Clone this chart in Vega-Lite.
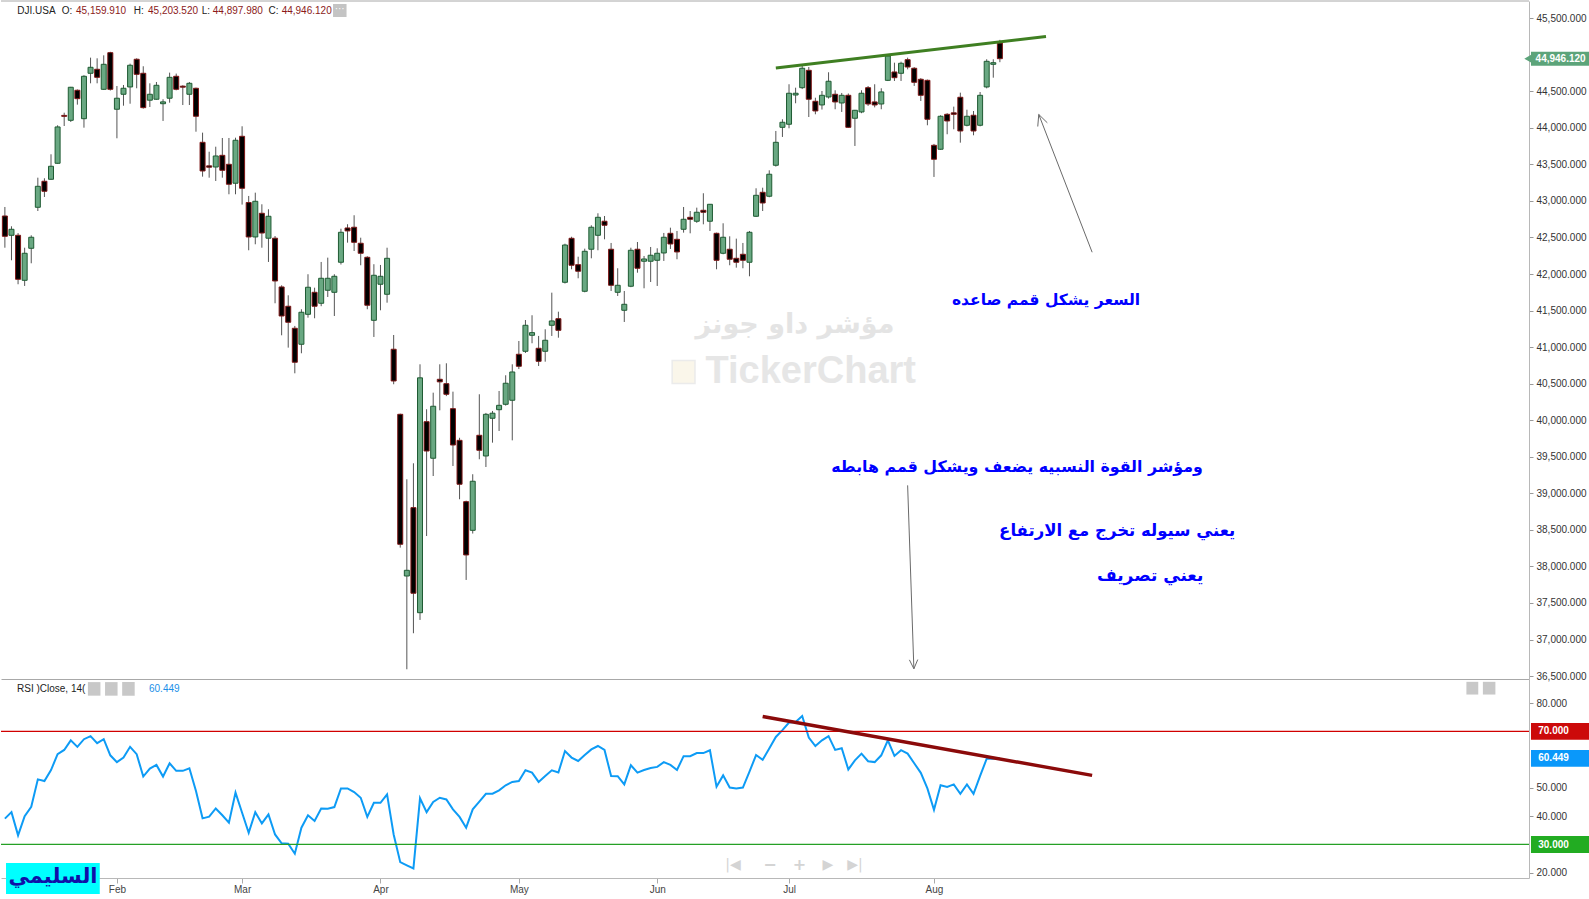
{
"$schema": "https://vega.github.io/schema/vega-lite/v6.json",
"padding": 0,
"autosize": {"type": "pad"},
"background": "white",
"spacing": 0,
"bounds": "flush",
"config": {"view": {"stroke": null}, "axis": {"grid": false, "labelOverlap": false, "labelFont": "Liberation Sans", "titleFont": "Liberation Sans"}, "text": {"font": "Liberation Sans"}},
"datasets": {"bars": [
{"i":0,"d":"2025-01-07","o":42794,"h":42917,"l":42360,"c":42516,"r":39.1},
{"i":1,"d":"2025-01-08","o":42530,"h":42653,"l":42188,"c":42612,"r":41.4},
{"i":2,"d":"2025-01-10","o":42530,"h":42560,"l":41860,"c":41928,"r":33.2},
{"i":3,"d":"2025-01-13","o":41914,"h":42360,"l":41837,"c":42284,"r":40.0},
{"i":4,"d":"2025-01-14","o":42352,"h":42530,"l":42147,"c":42503,"r":43.3},
{"i":5,"d":"2025-01-15","o":42913,"h":43318,"l":42862,"c":43200,"r":53.0},
{"i":6,"d":"2025-01-16","o":43269,"h":43310,"l":43054,"c":43132,"r":52.4},
{"i":7,"d":"2025-01-17","o":43296,"h":43638,"l":43290,"c":43474,"r":56.3},
{"i":8,"d":"2025-01-21","o":43515,"h":44035,"l":43510,"c":44012,"r":61.9},
{"i":9,"d":"2025-01-22","o":44170,"h":44207,"l":44025,"c":44157,"r":63.4},
{"i":10,"d":"2025-01-23","o":44103,"h":44560,"l":44080,"c":44555,"r":66.8},
{"i":11,"d":"2025-01-24","o":44514,"h":44525,"l":44317,"c":44399,"r":64.5},
{"i":12,"d":"2025-01-27","o":44125,"h":44720,"l":44002,"c":44705,"r":67.2},
{"i":13,"d":"2025-01-28","o":44746,"h":44960,"l":44609,"c":44828,"r":68.3},
{"i":14,"d":"2025-01-29","o":44801,"h":44951,"l":44609,"c":44691,"r":65.8},
{"i":15,"d":"2025-01-30","o":44527,"h":44992,"l":44520,"c":44869,"r":67.2},
{"i":16,"d":"2025-01-31","o":45028,"h":45040,"l":44510,"c":44527,"r":61.5},
{"i":17,"d":"2025-02-03","o":44254,"h":44572,"l":43857,"c":44405,"r":59.1},
{"i":18,"d":"2025-02-04","o":44459,"h":44586,"l":44303,"c":44541,"r":60.7},
{"i":19,"d":"2025-02-05","o":44559,"h":44878,"l":44330,"c":44856,"r":64.5},
{"i":20,"d":"2025-02-06","o":44938,"h":44951,"l":44541,"c":44732,"r":61.9},
{"i":21,"d":"2025-02-07","o":44746,"h":44842,"l":44262,"c":44276,"r":54.0},
{"i":22,"d":"2025-02-10","o":44378,"h":44609,"l":44285,"c":44459,"r":56.8},
{"i":23,"d":"2025-02-11","o":44391,"h":44627,"l":44385,"c":44582,"r":58.1},
{"i":24,"d":"2025-02-12","o":44330,"h":44391,"l":44094,"c":44355,"r":54.0},
{"i":25,"d":"2025-02-13","o":44405,"h":44755,"l":44344,"c":44691,"r":58.7},
{"i":26,"d":"2025-02-14","o":44705,"h":44742,"l":44513,"c":44527,"r":56.0},
{"i":27,"d":"2025-02-18","o":44570,"h":44582,"l":44312,"c":44556,"r":56.0},
{"i":28,"d":"2025-02-19","o":44459,"h":44627,"l":44312,"c":44609,"r":56.9},
{"i":29,"d":"2025-02-20","o":44541,"h":44550,"l":43947,"c":44158,"r":48.9},
{"i":30,"d":"2025-02-21","o":43802,"h":43934,"l":43332,"c":43410,"r":39.2},
{"i":31,"d":"2025-02-24","o":43480,"h":43673,"l":43318,"c":43461,"r":39.8},
{"i":32,"d":"2025-02-25","o":43464,"h":43742,"l":43273,"c":43615,"r":42.7},
{"i":33,"d":"2025-02-26","o":43624,"h":43861,"l":43318,"c":43419,"r":40.3},
{"i":34,"d":"2025-02-27","o":43501,"h":43861,"l":43091,"c":43228,"r":37.7},
{"i":35,"d":"2025-02-28","o":43242,"h":43865,"l":43091,"c":43830,"r":48.3},
{"i":36,"d":"2025-03-03","o":43884,"h":44021,"l":42950,"c":43173,"r":41.2},
{"i":37,"d":"2025-03-04","o":42978,"h":43068,"l":42325,"c":42507,"r":34.1},
{"i":38,"d":"2025-03-05","o":42507,"h":43113,"l":42407,"c":42995,"r":41.4},
{"i":39,"d":"2025-03-06","o":42831,"h":42954,"l":42360,"c":42561,"r":37.4},
{"i":40,"d":"2025-03-07","o":42490,"h":42886,"l":42165,"c":42790,"r":40.6},
{"i":41,"d":"2025-03-10","o":42490,"h":42520,"l":41600,"c":41905,"r":33.5},
{"i":42,"d":"2025-03-11","o":41823,"h":41846,"l":41162,"c":41426,"r":30.4},
{"i":43,"d":"2025-03-12","o":41559,"h":41709,"l":40993,"c":41340,"r":30.2},
{"i":44,"d":"2025-03-13","o":41258,"h":41290,"l":40642,"c":40793,"r":26.7},
{"i":45,"d":"2025-03-14","o":41039,"h":41518,"l":40916,"c":41477,"r":35.9},
{"i":46,"d":"2025-03-17","o":41449,"h":41997,"l":41403,"c":41819,"r":40.3},
{"i":47,"d":"2025-03-18","o":41750,"h":41813,"l":41395,"c":41559,"r":38.3},
{"i":48,"d":"2025-03-19","o":41600,"h":42165,"l":41560,"c":41942,"r":42.7},
{"i":49,"d":"2025-03-20","o":41778,"h":42224,"l":41686,"c":41942,"r":42.6},
{"i":50,"d":"2025-03-21","o":41750,"h":41997,"l":41426,"c":41969,"r":43.2},
{"i":51,"d":"2025-03-24","o":42161,"h":42620,"l":42130,"c":42571,"r":49.8},
{"i":52,"d":"2025-03-25","o":42630,"h":42681,"l":42429,"c":42590,"r":49.8},
{"i":53,"d":"2025-03-26","o":42640,"h":42804,"l":42315,"c":42434,"r":48.5},
{"i":54,"d":"2025-03-27","o":42421,"h":42497,"l":42120,"c":42284,"r":46.5},
{"i":55,"d":"2025-03-28","o":42229,"h":42243,"l":41518,"c":41573,"r":39.7},
{"i":56,"d":"2025-03-31","o":41367,"h":42134,"l":41139,"c":41983,"r":44.7},
{"i":57,"d":"2025-04-01","o":41860,"h":42124,"l":41504,"c":41969,"r":44.7},
{"i":58,"d":"2025-04-02","o":41723,"h":42360,"l":41608,"c":42215,"r":47.7},
{"i":59,"d":"2025-04-03","o":40971,"h":41166,"l":40492,"c":40537,"r":33.5},
{"i":60,"d":"2025-04-04","o":40081,"h":40090,"l":38257,"c":38303,"r":23.7},
{"i":61,"d":"2025-04-07","o":37869,"h":39192,"l":36593,"c":37947,"r":22.6},
{"i":62,"d":"2025-04-08","o":38804,"h":39411,"l":37086,"c":37633,"r":21.5},
{"i":63,"d":"2025-04-09","o":37367,"h":40765,"l":37268,"c":40580,"r":46.3},
{"i":64,"d":"2025-04-10","o":39980,"h":40150,"l":38416,"c":39579,"r":41.4},
{"i":65,"d":"2025-04-11","o":39480,"h":40377,"l":39237,"c":40191,"r":45.0},
{"i":66,"d":"2025-04-14","o":40560,"h":40765,"l":40136,"c":40525,"r":46.5},
{"i":67,"d":"2025-04-15","o":40500,"h":40779,"l":40330,"c":40355,"r":45.9},
{"i":68,"d":"2025-04-16","o":40158,"h":40391,"l":39374,"c":39661,"r":42.4},
{"i":69,"d":"2025-04-17","o":39725,"h":39760,"l":38919,"c":39124,"r":39.7},
{"i":70,"d":"2025-04-21","o":38886,"h":38900,"l":37815,"c":38157,"r":35.9},
{"i":71,"d":"2025-04-22","o":38494,"h":39261,"l":38450,"c":39165,"r":42.4},
{"i":72,"d":"2025-04-23","o":39794,"h":40355,"l":39466,"c":39589,"r":45.1},
{"i":73,"d":"2025-04-24","o":39511,"h":40100,"l":39360,"c":40081,"r":47.9},
{"i":74,"d":"2025-04-25","o":40027,"h":40127,"l":39693,"c":40096,"r":47.9},
{"i":75,"d":"2025-04-28","o":40144,"h":40400,"l":39853,"c":40204,"r":49.1},
{"i":76,"d":"2025-04-29","o":40218,"h":40615,"l":40200,"c":40506,"r":50.9},
{"i":77,"d":"2025-04-30","o":40273,"h":40765,"l":39725,"c":40660,"r":52.1},
{"i":78,"d":"2025-05-01","o":40902,"h":41084,"l":40700,"c":40738,"r":52.4},
{"i":79,"d":"2025-05-02","o":40943,"h":41371,"l":40920,"c":41299,"r":56.2},
{"i":80,"d":"2025-05-05","o":41162,"h":41436,"l":41053,"c":41198,"r":55.4},
{"i":81,"d":"2025-05-06","o":40984,"h":41153,"l":40742,"c":40806,"r":52.1},
{"i":82,"d":"2025-05-07","o":40943,"h":41244,"l":40801,"c":41094,"r":54.2},
{"i":83,"d":"2025-05-08","o":41299,"h":41745,"l":41153,"c":41358,"r":56.2},
{"i":84,"d":"2025-05-09","o":41389,"h":41485,"l":41129,"c":41230,"r":55.4},
{"i":85,"d":"2025-05-12","o":41887,"h":42415,"l":41870,"c":42397,"r":63.0},
{"i":86,"d":"2025-05-13","o":42489,"h":42510,"l":42065,"c":42120,"r":60.7},
{"i":87,"d":"2025-05-14","o":42128,"h":42237,"l":41942,"c":42038,"r":59.5},
{"i":88,"d":"2025-05-15","o":41764,"h":42347,"l":41750,"c":42311,"r":61.6},
{"i":89,"d":"2025-05-16","o":42339,"h":42667,"l":42215,"c":42640,"r":63.6},
{"i":90,"d":"2025-05-19","o":42530,"h":42831,"l":42325,"c":42776,"r":64.8},
{"i":91,"d":"2025-05-20","o":42722,"h":42794,"l":42475,"c":42667,"r":63.4},
{"i":92,"d":"2025-05-21","o":42339,"h":42425,"l":41768,"c":41846,"r":54.2},
{"i":93,"d":"2025-05-22","o":41750,"h":42079,"l":41700,"c":41846,"r":54.1},
{"i":94,"d":"2025-05-23","o":41504,"h":41768,"l":41344,"c":41586,"r":51.2},
{"i":95,"d":"2025-05-27","o":41833,"h":42360,"l":41820,"c":42325,"r":58.0},
{"i":96,"d":"2025-05-28","o":42339,"h":42438,"l":42018,"c":42079,"r":55.4},
{"i":97,"d":"2025-05-29","o":42175,"h":42247,"l":41805,"c":42206,"r":56.3},
{"i":98,"d":"2025-05-30","o":42175,"h":42370,"l":41891,"c":42257,"r":57.0},
{"i":99,"d":"2025-06-02","o":42188,"h":42352,"l":41837,"c":42284,"r":57.4},
{"i":100,"d":"2025-06-03","o":42288,"h":42562,"l":42179,"c":42503,"r":59.1},
{"i":101,"d":"2025-06-04","o":42557,"h":42634,"l":42343,"c":42411,"r":58.1},
{"i":102,"d":"2025-06-05","o":42475,"h":42589,"l":42202,"c":42302,"r":56.3},
{"i":103,"d":"2025-06-06","o":42612,"h":42917,"l":42566,"c":42749,"r":61.2},
{"i":104,"d":"2025-06-09","o":42776,"h":42862,"l":42557,"c":42749,"r":61.2},
{"i":105,"d":"2025-06-10","o":42722,"h":42908,"l":42700,"c":42845,"r":62.3},
{"i":106,"d":"2025-06-11","o":42872,"h":43105,"l":42680,"c":42845,"r":62.3},
{"i":107,"d":"2025-06-12","o":42722,"h":42958,"l":42589,"c":42954,"r":63.3},
{"i":108,"d":"2025-06-13","o":42557,"h":42566,"l":42065,"c":42188,"r":50.4},
{"i":109,"d":"2025-06-16","o":42284,"h":42694,"l":42270,"c":42503,"r":54.4},
{"i":110,"d":"2025-06-17","o":42339,"h":42516,"l":42120,"c":42202,"r":50.1},
{"i":111,"d":"2025-06-18","o":42215,"h":42484,"l":42087,"c":42161,"r":49.8},
{"i":112,"d":"2025-06-20","o":42270,"h":42425,"l":42079,"c":42188,"r":50.1},
{"i":113,"d":"2025-06-23","o":42161,"h":42589,"l":41969,"c":42571,"r":55.7},
{"i":114,"d":"2025-06-24","o":42790,"h":43173,"l":42780,"c":43077,"r":61.6},
{"i":115,"d":"2025-06-25","o":43118,"h":43181,"l":42862,"c":42972,"r":59.9},
{"i":116,"d":"2025-06-26","o":43064,"h":43419,"l":43050,"c":43365,"r":63.9},
{"i":117,"d":"2025-06-27","o":43488,"h":43957,"l":43470,"c":43802,"r":68.0},
{"i":118,"d":"2025-06-30","o":44007,"h":44117,"l":43875,"c":44076,"r":70.4},
{"i":119,"d":"2025-07-01","o":44049,"h":44596,"l":43994,"c":44473,"r":73.1},
{"i":120,"d":"2025-07-02","o":44449,"h":44549,"l":44336,"c":44473,"r":73.3},
{"i":121,"d":"2025-07-03","o":44549,"h":44869,"l":44530,"c":44815,"r":75.4},
{"i":122,"d":"2025-07-07","o":44787,"h":44832,"l":44148,"c":44391,"r":67.8},
{"i":123,"d":"2025-07-08","o":44363,"h":44412,"l":44185,"c":44231,"r":64.8},
{"i":124,"d":"2025-07-09","o":44313,"h":44504,"l":44250,"c":44445,"r":66.8},
{"i":125,"d":"2025-07-10","o":44422,"h":44760,"l":44400,"c":44637,"r":68.3},
{"i":126,"d":"2025-07-11","o":44459,"h":44514,"l":44254,"c":44354,"r":63.4},
{"i":127,"d":"2025-07-14","o":44340,"h":44477,"l":44217,"c":44445,"r":64.0},
{"i":128,"d":"2025-07-15","o":44445,"h":44470,"l":44000,"c":44007,"r":56.5},
{"i":129,"d":"2025-07-16","o":44131,"h":44245,"l":43752,"c":44240,"r":59.7},
{"i":130,"d":"2025-07-17","o":44217,"h":44514,"l":44200,"c":44473,"r":62.1},
{"i":131,"d":"2025-07-18","o":44549,"h":44572,"l":44300,"c":44326,"r":59.4},
{"i":132,"d":"2025-07-21","o":44354,"h":44596,"l":44280,"c":44313,"r":59.1},
{"i":133,"d":"2025-07-22","o":44326,"h":44541,"l":44254,"c":44491,"r":61.5},
{"i":134,"d":"2025-07-23","o":44650,"h":45006,"l":44640,"c":44983,"r":66.8},
{"i":135,"d":"2025-07-24","o":44764,"h":44891,"l":44641,"c":44686,"r":61.3},
{"i":136,"d":"2025-07-25","o":44746,"h":44905,"l":44641,"c":44883,"r":63.3},
{"i":137,"d":"2025-07-28","o":44932,"h":44960,"l":44800,"c":44832,"r":62.1},
{"i":138,"d":"2025-07-29","o":44815,"h":44830,"l":44573,"c":44623,"r":58.7},
{"i":139,"d":"2025-07-30","o":44664,"h":44680,"l":44367,"c":44445,"r":55.3},
{"i":140,"d":"2025-07-31","o":44650,"h":44660,"l":44035,"c":44117,"r":49.8},
{"i":141,"d":"2025-08-01","o":43761,"h":43780,"l":43328,"c":43570,"r":42.2},
{"i":142,"d":"2025-08-04","o":43707,"h":44172,"l":43700,"c":44158,"r":50.9},
{"i":143,"d":"2025-08-05","o":44185,"h":44200,"l":43912,"c":44094,"r":50.3},
{"i":144,"d":"2025-08-06","o":44205,"h":44290,"l":43980,"c":44185,"r":51.2},
{"i":145,"d":"2025-08-07","o":44418,"h":44481,"l":43797,"c":43957,"r":47.9},
{"i":146,"d":"2025-08-08","o":44035,"h":44248,"l":44020,"c":44158,"r":51.2},
{"i":147,"d":"2025-08-11","o":44172,"h":44230,"l":43898,"c":43957,"r":47.9},
{"i":148,"d":"2025-08-12","o":44035,"h":44490,"l":44020,"c":44445,"r":54.2},
{"i":149,"d":"2025-08-13","o":44559,"h":44938,"l":44540,"c":44910,"r":60.3},
{"i":150,"d":"2025-08-14","o":44869,"h":44938,"l":44686,"c":44891,"r":60.3},
{"i":151,"d":"2025-08-15","o":45159.91,"h":45203.52,"l":44897.98,"c":44946.12,"r":60.449}
]},
"vconcat": [
{
 "width": 1528, "height": 678,
 "layer": [
  {"data": {"name": "bars"}, "mark": {"type": "rule", "color": "#555555", "strokeWidth": 1},
   "encoding": {
    "x": {"field": "i", "type": "quantitative", "scale": {"domain": [-0.59, 231.3], "nice": false, "zero": false, "padding": 0}, "axis": {"title": null, "labels": false, "ticks": false, "domainColor": "#a8a8a8", "grid": false}},
    "y": {"field": "l", "type": "quantitative", "scale": {"domain": [36460, 45735], "nice": false, "zero": false}, "axis": {"orient": "right", "title": null, "values": [36500,37000,37500,38000,38500,39000,39500,40000,40500,41000,41500,42000,42500,43000,43500,44000,44500,45500], "tickCount": 40, "format": ",.3f", "labelOverlap": false, "labelFontSize": 10, "labelColor": "#333333", "tickColor": "#999999", "tickSize": 4, "domainColor": "#b8b8b8", "labelPadding": 3}},
    "y2": {"field": "h"}}},
  {"data": {"values": [{}]}, "mark": {"type": "text", "font": "DejaVu Sans", "fontWeight": "bold", "fontSize": 27, "color": "#e4e4e4", "align": "center", "baseline": "middle"},
   "encoding": {"x": {"datum": 119.9}, "y": {"datum": 41303}, "text": {"value": "مؤشر داو جونز"}}},
  {"data": {"values": [{}]}, "mark": {"type": "text", "font": "Liberation Sans", "fontWeight": "bold", "fontSize": 38, "color": "#e6e6e6", "align": "center", "baseline": "middle"},
   "encoding": {"x": {"datum": 122.3}, "y": {"datum": 40660}, "text": {"value": "TickerChart"}}},
  {"data": {"values": [{}]}, "mark": {"type": "point", "shape": "square", "size": 520, "filled": true, "color": "#f8f3e2", "stroke": "#e3e3e3", "strokeWidth": 1.5},
   "encoding": {"x": {"datum": 103.0}, "y": {"datum": 40660}}},
  {"data": {"name": "bars"}, "mark": {"type": "bar", "size": 5, "strokeWidth": 1},
   "encoding": {"x": {"field": "i", "type": "quantitative"},
    "y": {"field": "o", "type": "quantitative"},
    "y2": {"field": "c"},
    "fill": {"condition": {"test": "datum.c >= datum.o", "value": "#69a882"}, "value": "#000000"},
    "stroke": {"condition": {"test": "datum.c >= datum.o", "value": "#1f5b33"}, "value": "#7d1616"}}},
  {"data": {"values": [{}]}, "mark": {"type": "rule", "color": "#a8a8a8", "strokeWidth": 1},
   "encoding": {"y": {"datum": 45735}}},
  {"data": {"values": [{}]}, "mark": {"type": "rule", "color": "#3f7f22", "strokeWidth": 3},
   "encoding": {"x": {"datum": 117}, "y": {"datum": 44819}, "x2": {"datum": 158}, "y2": {"datum": 45250}}},
  {"data": {"values": [{}]}, "mark": {"type": "rule", "color": "#6a6a6a", "strokeWidth": 1},
   "encoding": {"x": {"datum": 165.0}, "y": {"datum": 42298}, "x2": {"datum": 156.9}, "y2": {"datum": 44183}}},
  {"data": {"values": [{}]}, "mark": {"type": "rule", "color": "#6a6a6a", "strokeWidth": 1},
   "encoding": {"x": {"datum": 156.9}, "y": {"datum": 44183}, "x2": {"datum": 156.75}, "y2": {"datum": 44018}}},
  {"data": {"values": [{}]}, "mark": {"type": "rule", "color": "#6a6a6a", "strokeWidth": 1},
   "encoding": {"x": {"datum": 156.9}, "y": {"datum": 44183}, "x2": {"datum": 158.2}, "y2": {"datum": 44069}}},
  {"data": {"values": [{}]}, "mark": {"type": "rule", "color": "#6a6a6a", "strokeWidth": 1},
   "encoding": {"x": {"datum": 137.0}, "y": {"datum": 39109}, "x2": {"datum": 137.95}, "y2": {"datum": 36600}}},
  {"data": {"values": [{}]}, "mark": {"type": "rule", "color": "#6a6a6a", "strokeWidth": 1},
   "encoding": {"x": {"datum": 137.95}, "y": {"datum": 36600}, "x2": {"datum": 138.54}, "y2": {"datum": 36726}}},
  {"data": {"values": [{}]}, "mark": {"type": "rule", "color": "#6a6a6a", "strokeWidth": 1},
   "encoding": {"x": {"datum": 137.95}, "y": {"datum": 36600}, "x2": {"datum": 137.27}, "y2": {"datum": 36722}}},
  {"data": {"values": [{}]}, "mark": {"type": "text", "font": "DejaVu Sans", "fontWeight": "bold", "fontSize": 15.5, "color": "#0000ff", "align": "center", "baseline": "middle"},
   "encoding": {"x": {"datum": 158.0}, "y": {"datum": 41645}, "text": {"value": "السعر يشكل قمم صاعده"}}},
  {"data": {"values": [{}]}, "mark": {"type": "text", "font": "DejaVu Sans", "fontWeight": "bold", "fontSize": 15.8, "color": "#0000ff", "align": "center", "baseline": "middle"},
   "encoding": {"x": {"datum": 153.6}, "y": {"datum": 39360}, "text": {"value": "ومؤشر القوة النسبيه يضعف ويشكل قمم هابطه"}}},
  {"data": {"values": [{}]}, "mark": {"type": "text", "font": "DejaVu Sans", "fontWeight": "bold", "fontSize": 16.5, "color": "#0000ff", "align": "center", "baseline": "middle"},
   "encoding": {"x": {"datum": 168.8}, "y": {"datum": 38485}, "text": {"value": "يعني سيوله تخرج مع الارتفاع"}}},
  {"data": {"values": [{}]}, "mark": {"type": "text", "font": "DejaVu Sans", "fontWeight": "bold", "fontSize": 17, "color": "#0000ff", "align": "center", "baseline": "middle"},
   "encoding": {"x": {"datum": 173.8}, "y": {"datum": 37869}, "text": {"value": "يعني تصريف"}}},
  {"data": {"values": [{}]}, "mark": {"type": "text", "fontSize": 10, "color": "#222222", "align": "left", "baseline": "middle"},
   "encoding": {"x": {"datum": 1.87}, "y": {"datum": 45597}, "text": {"value": "DJI.USA"}}},
  {"data": {"values": [{}]}, "mark": {"type": "text", "fontSize": 10, "color": "#222222", "align": "left", "baseline": "middle"},
   "encoding": {"x": {"datum": 8.63}, "y": {"datum": 45597}, "text": {"value": "O:"}}},
  {"data": {"values": [{}]}, "mark": {"type": "text", "fontSize": 10, "color": "#8b1a1a", "align": "left", "baseline": "middle"},
   "encoding": {"x": {"datum": 10.79}, "y": {"datum": 45597}, "text": {"value": "45,159.910"}}},
  {"data": {"values": [{}]}, "mark": {"type": "text", "fontSize": 10, "color": "#222222", "align": "left", "baseline": "middle"},
   "encoding": {"x": {"datum": 19.56}, "y": {"datum": 45597}, "text": {"value": "H:"}}},
  {"data": {"values": [{}]}, "mark": {"type": "text", "fontSize": 10, "color": "#8b1a1a", "align": "left", "baseline": "middle"},
   "encoding": {"x": {"datum": 21.72}, "y": {"datum": 45597}, "text": {"value": "45,203.520"}}},
  {"data": {"values": [{}]}, "mark": {"type": "text", "fontSize": 10, "color": "#222222", "align": "left", "baseline": "middle"},
   "encoding": {"x": {"datum": 29.86}, "y": {"datum": 45597}, "text": {"value": "L:"}}},
  {"data": {"values": [{}]}, "mark": {"type": "text", "fontSize": 10, "color": "#8b1a1a", "align": "left", "baseline": "middle"},
   "encoding": {"x": {"datum": 31.55}, "y": {"datum": 45597}, "text": {"value": "44,897.980"}}},
  {"data": {"values": [{}]}, "mark": {"type": "text", "fontSize": 10, "color": "#222222", "align": "left", "baseline": "middle"},
   "encoding": {"x": {"datum": 40.0}, "y": {"datum": 45597}, "text": {"value": "C:"}}},
  {"data": {"values": [{}]}, "mark": {"type": "text", "fontSize": 10, "color": "#8b1a1a", "align": "left", "baseline": "middle"},
   "encoding": {"x": {"datum": 42.0}, "y": {"datum": 45597}, "text": {"value": "44,946.120"}}},
  {"data": {"values": [{}]}, "mark": {"type": "rect", "color": "#c4c4c4"},
   "encoding": {"x": {"datum": 49.8}, "x2": {"datum": 51.85}, "y": {"datum": 45694}, "y2": {"datum": 45516}}},
  {"data": {"values": [{}]}, "mark": {"type": "text", "fontSize": 10, "color": "#ffffff", "align": "center", "baseline": "middle"},
   "encoding": {"x": {"datum": 50.8}, "y": {"datum": 45620}, "text": {"value": "···"}}},
  {"data": {"values": [{}]}, "mark": {"type": "rect", "color": "#5ca47a"},
   "encoding": {"x": {"datum": 231.6}, "x2": {"datum": 240.5}, "y": {"datum": 45042}, "y2": {"datum": 44850}}},
  {"data": {"values": [{}]}, "mark": {"type": "point", "shape": "triangle-left", "size": 60, "filled": true, "color": "#5ca47a", "opacity": 1},
   "encoding": {"x": {"datum": 231.1}, "y": {"datum": 44946}}},
  {"data": {"values": [{}]}, "mark": {"type": "text", "fontSize": 10, "fontWeight": "bold", "color": "#ffffff", "align": "left", "baseline": "middle"},
   "encoding": {"x": {"datum": 232.3}, "y": {"datum": 44946}, "text": {"value": "44,946.120"}}}
 ]
},
{
 "width": 1528, "height": 199,
 "layer": [
  {"data": {"name": "bars"}, "mark": {"type": "line", "color": "#0d9bf5", "strokeWidth": 2},
   "encoding": {
    "x": {"field": "i", "type": "quantitative", "scale": {"domain": [-0.59, 231.3], "nice": false, "zero": false, "padding": 0},
      "axis": {"title": null, "values": [17,36,57,78,99,119,141], "tickCount": 20, "labelExpr": "datum.value==17?'Feb':datum.value==36?'Mar':datum.value==57?'Apr':datum.value==78?'May':datum.value==99?'Jun':datum.value==119?'Jul':'Aug'", "labelFontSize": 10, "labelColor": "#444444", "tickColor": "#aaaaaa", "tickSize": 5, "domainColor": "#b8b8b8", "labelPadding": 1, "grid": false}},
    "y": {"field": "r", "type": "quantitative", "scale": {"domain": [18.1, 88.5], "nice": false, "zero": false},
      "axis": {"orient": "right", "title": null, "values": [20,40,50,80], "tickCount": 10, "format": ".3f", "labelOverlap": false, "labelFontSize": 10, "labelColor": "#333333", "tickColor": "#999999", "tickSize": 4, "domainColor": "#b8b8b8", "labelPadding": 3}}}},
  {"data": {"values": [{}]}, "mark": {"type": "rule", "color": "#d10000", "strokeWidth": 1.2},
   "encoding": {"y": {"datum": 70}}},
  {"data": {"values": [{}]}, "mark": {"type": "rule", "color": "#25a025", "strokeWidth": 1.2},
   "encoding": {"y": {"datum": 30}}},
  {"data": {"values": [{}]}, "mark": {"type": "rule", "color": "#8b0a0a", "strokeWidth": 3.5},
   "encoding": {"x": {"datum": 115}, "y": {"datum": 75.2}, "x2": {"datum": 165}, "y2": {"datum": 54.4}}},
  {"data": {"values": [{}]}, "mark": {"type": "rect", "color": "#cc0a0a"},
   "encoding": {"x": {"datum": 231.6}, "x2": {"datum": 240.5}, "y": {"datum": 72.94}, "y2": {"datum": 67.03}}},
  {"data": {"values": [{}]}, "mark": {"type": "text", "fontSize": 10, "fontWeight": "bold", "color": "#ffffff", "align": "left", "baseline": "middle"},
   "encoding": {"x": {"datum": 232.7}, "y": {"datum": 70}, "text": {"value": "70.000"}}},
  {"data": {"values": [{}]}, "mark": {"type": "rect", "color": "#0a98fa"},
   "encoding": {"x": {"datum": 231.6}, "x2": {"datum": 240.5}, "y": {"datum": 63.38}, "y2": {"datum": 57.47}}},
  {"data": {"values": [{}]}, "mark": {"type": "text", "fontSize": 10, "fontWeight": "bold", "color": "#ffffff", "align": "left", "baseline": "middle"},
   "encoding": {"x": {"datum": 232.7}, "y": {"datum": 60.43}, "text": {"value": "60.449"}}},
  {"data": {"values": [{}]}, "mark": {"type": "rect", "color": "#22ac22"},
   "encoding": {"x": {"datum": 231.6}, "x2": {"datum": 240.5}, "y": {"datum": 32.94}, "y2": {"datum": 26.92}}},
  {"data": {"values": [{}]}, "mark": {"type": "text", "fontSize": 10, "fontWeight": "bold", "color": "#ffffff", "align": "left", "baseline": "middle"},
   "encoding": {"x": {"datum": 232.7}, "y": {"datum": 29.93}, "text": {"value": "30.000"}}},
  {"data": {"values": [{}]}, "mark": {"type": "text", "fontSize": 10, "color": "#222222", "align": "left", "baseline": "middle"},
   "encoding": {"x": {"datum": 1.84}, "y": {"datum": 84.97}, "text": {"value": "RSI  )Close, 14("}}},
  {"data": {"values": [{}]}, "mark": {"type": "rect", "color": "#c8c8c8"},
   "encoding": {"x": {"datum": 12.6}, "x2": {"datum": 14.5}, "y": {"datum": 87.4}, "y2": {"datum": 82.6}}},
  {"data": {"values": [{}]}, "mark": {"type": "rect", "color": "#c8c8c8"},
   "encoding": {"x": {"datum": 15.2}, "x2": {"datum": 17.1}, "y": {"datum": 87.4}, "y2": {"datum": 82.6}}},
  {"data": {"values": [{}]}, "mark": {"type": "rect", "color": "#c8c8c8"},
   "encoding": {"x": {"datum": 17.8}, "x2": {"datum": 19.7}, "y": {"datum": 87.4}, "y2": {"datum": 82.6}}},
  {"data": {"values": [{}]}, "mark": {"type": "text", "fontSize": 10, "color": "#1a8fe8", "align": "left", "baseline": "middle"},
   "encoding": {"x": {"datum": 21.87}, "y": {"datum": 84.97}, "text": {"value": "60.449"}}},
  {"data": {"values": [{}]}, "mark": {"type": "rect", "color": "#c8c8c8"},
   "encoding": {"x": {"datum": 221.8}, "x2": {"datum": 223.6}, "y": {"datum": 87.5}, "y2": {"datum": 83.0}}},
  {"data": {"values": [{}]}, "mark": {"type": "rect", "color": "#c8c8c8"},
   "encoding": {"x": {"datum": 224.3}, "x2": {"datum": 226.2}, "y": {"datum": 87.5}, "y2": {"datum": 83.0}}},
  {"data": {"values": [{}]}, "mark": {"type": "text", "font": "DejaVu Sans", "fontSize": 14, "color": "#d4d4d4", "align": "center", "baseline": "middle"},
   "encoding": {"x": {"datum": 110.5}, "y": {"datum": 22.7}, "text": {"value": "|◀"}}},
  {"data": {"values": [{}]}, "mark": {"type": "text", "font": "DejaVu Sans", "fontSize": 16, "fontWeight": "bold", "color": "#d4d4d4", "align": "center", "baseline": "middle"},
   "encoding": {"x": {"datum": 116.1}, "y": {"datum": 22.7}, "text": {"value": "−"}}},
  {"data": {"values": [{}]}, "mark": {"type": "text", "font": "DejaVu Sans", "fontSize": 16, "fontWeight": "bold", "color": "#d4d4d4", "align": "center", "baseline": "middle"},
   "encoding": {"x": {"datum": 120.6}, "y": {"datum": 22.7}, "text": {"value": "+"}}},
  {"data": {"values": [{}]}, "mark": {"type": "text", "font": "DejaVu Sans", "fontSize": 14, "color": "#d4d4d4", "align": "center", "baseline": "middle"},
   "encoding": {"x": {"datum": 124.9}, "y": {"datum": 22.7}, "text": {"value": "▶"}}},
  {"data": {"values": [{}]}, "mark": {"type": "text", "font": "DejaVu Sans", "fontSize": 14, "color": "#d4d4d4", "align": "center", "baseline": "middle"},
   "encoding": {"x": {"datum": 129.0}, "y": {"datum": 22.7}, "text": {"value": "▶|"}}},
  {"data": {"values": [{}]}, "mark": {"type": "rect", "color": "#00ffff"},
   "encoding": {"x": {"datum": 0.17}, "x2": {"datum": 14.4}, "y": {"datum": 23.4}, "y2": {"datum": 12.4}}},
  {"data": {"values": [{}]}, "mark": {"type": "text", "font": "DejaVu Sans", "fontWeight": "bold", "fontSize": 21, "color": "#1010a8", "align": "center", "baseline": "middle"},
   "encoding": {"x": {"datum": 7.3}, "y": {"datum": 18.6}, "text": {"value": "السليمي"}}}
 ]
}
]
}
